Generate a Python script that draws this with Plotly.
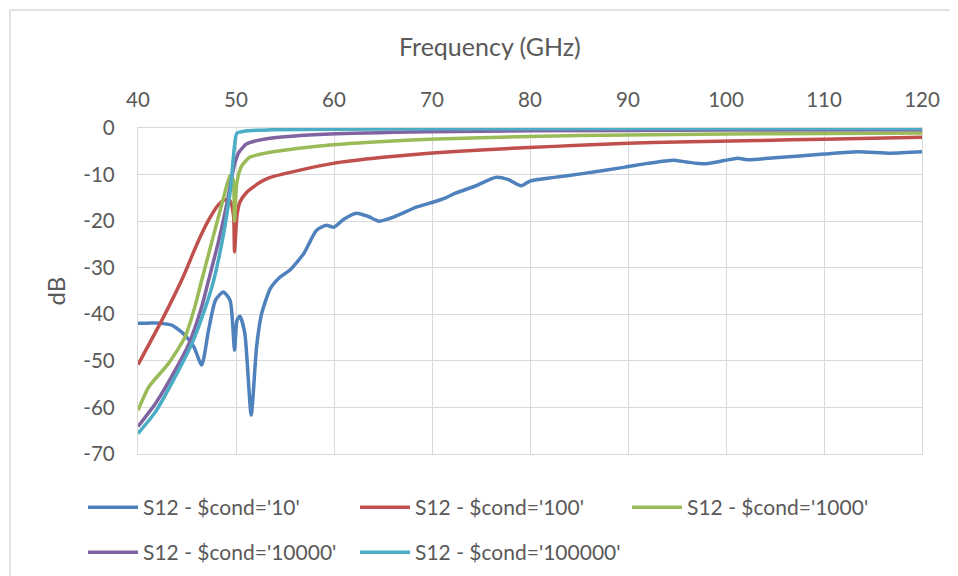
import plotly.graph_objects as go

# ---- data ----
f_10 = [40, 41, 42.1, 43.5, 44.8, 45.7, 46.5, 47.2, 47.9, 48.7, 49.4, 49.85, 50.1, 50.4, 50.9,
        51.55, 52.1, 52.6, 53.5, 54.5, 55.5, 56.9, 58.2, 59.2, 60.0, 61, 62.3, 63.5, 64.6, 66,
        68.4, 70, 71.4, 72.4, 74.5, 76.5, 77.8, 79.1, 80.0, 82.5, 85, 89.7, 92, 94.6, 96, 97.8,
        99.8, 101.2, 102.2, 105, 110, 113.4, 116.8, 120]
s_10 = [-41.9, -41.9, -41.9, -42.4, -44.5, -47, -50.9, -43.4, -37, -35.2, -37, -47.7, -41.3, -40.4, -44.1,
        -61.6, -47, -40, -34.5, -32, -30.5, -27, -22, -20.9, -21.3, -19.6, -18.3, -19, -20, -19.2,
        -17, -16, -15, -14, -12.4, -10.6, -11.1, -12.4, -11.4, -10.6, -9.9, -8.4, -7.6, -6.9, -7.3, -7.7,
        -7.0, -6.5, -6.8, -6.4, -5.6, -5.1, -5.4, -5.1]

f_100 = [40, 42.6, 44.6, 46.0, 47.2, 48.2, 48.9, 49.4, 49.75, 49.85, 50.1, 50.4, 51.1, 52.5,
         53.5, 56.2, 59.9, 65, 69.7, 75, 79.9, 85, 90, 95, 103.2, 110, 120]
s_100 = [-50.8, -40.6, -32.0, -25.0, -19.8, -16.5, -15.4, -15.6, -18.8, -26.6, -18.8, -15.9, -13.8, -11.6,
         -10.6, -9.2, -7.6, -6.3, -5.4, -4.7, -4.2, -3.7, -3.3, -3.0, -2.7, -2.4, -2.0]

f_1000 = [40, 41.1, 43.1, 44.8, 45.8, 46.5, 47.7, 48.7, 49.4, 49.7, 49.85, 50.1, 50.6, 51.4, 53.5,
          56.2, 59.9, 65, 69.7, 80, 90, 100, 110, 120]
s_1000 = [-60.6, -55.6, -50.6, -44.9, -38.4, -32.7, -23.1, -15.2, -10.2, -11, -20.0, -11.6, -8.1, -6.3, -5.2,
          -4.4, -3.6, -2.9, -2.4, -1.8, -1.5, -1.3, -1.2, -1.1]

f_10000 = [40, 41.8, 43.8, 45.2, 46.5, 47.2, 48.2, 49.1, 49.6, 49.9, 50.3, 51.1, 53.5, 59.6, 69.7, 80, 100, 120]
s_10000 = [-64.1, -59.1, -52, -46.3, -38.4, -32.7, -24.5, -15.9, -10.2, -7.4, -5.2, -3.4, -2.2, -1.3, -0.8, -0.6, -0.45, -0.35]

f_100000 = [40, 41.8, 43.8, 45.5, 46.9, 47.7, 48.7, 49.4, 49.85, 50.1, 51.1, 53.5, 60, 80, 120]
s_100000 = [-65.6, -60.9, -53.4, -46.3, -38.4, -32.9, -23.1, -13.8, -3.8, -1.1, -0.6, -0.4, -0.25, -0.15, -0.1]

names = ["S12 - $cond='10'", "S12 - $cond='100'", "S12 - $cond='1000'",
         "S12 - $cond='10000'", "S12 - $cond='100000'"]
colors = ["#4F81BD", "#C0504D", "#9BBB59", "#8064A2", "#4BACC6"]
legend_rows = ["legend", "legend", "legend", "legend2", "legend2"]
x_ticks = [40, 50, 60, 70, 80, 90, 100, 110, 120]
y_ticks = [0, -10, -20, -30, -40, -50, -60, -70]
x_title = "Frequency (GHz)"
y_title = "dB"

series = [(f_10, s_10), (f_100, s_100), (f_1000, s_1000), (f_10000, s_10000), (f_100000, s_100000)]

FONT = "Lato"
TXT = "#595959"
GRID = "#D9D9D9"

fig = go.Figure()
for (fx, sy), nm, c, lg in zip(series, names, colors, legend_rows):
    fig.add_trace(go.Scatter(x=fx, y=sy, mode="lines", name=nm, legend=lg,
                             line=dict(color=c, width=3.5, shape="spline", smoothing=0.6)))

# page has an 8px body margin; the figure is placed at (8, 8)
OFF = 8
W, H = 958 - OFF, 576 - OFF
L, R, T, B = 130, 36, 120, 122
pw, ph = W - L - R, H - T - B

def px(xp):
    return (xp - L) / pw

def py(yp):
    return (H - B - yp) / ph

leg_common = dict(orientation="h", xanchor="left", yanchor="top",
                  entrywidth=207, entrywidthmode="pixels", itemwidth=50,
                  font=dict(family=FONT, size=21, color=TXT), bgcolor="rgba(0,0,0,0)",
                  itemclick=False, itemdoubleclick=False)

fig.update_layout(
    width=W, height=H,
    margin=dict(l=L, r=R, t=T, b=B, pad=0, autoexpand=False),
    paper_bgcolor="white", plot_bgcolor="white",
    font=dict(family=FONT, size=20.5, color=TXT),
    xaxis=dict(side="top", range=[40, 120], tickvals=x_ticks, ticktext=[str(v) for v in x_ticks],
               tickfont=dict(size=20.5, color=TXT), automargin=False,
               showgrid=True, gridcolor=GRID, gridwidth=1.3, zeroline=False,
               showline=True, linecolor=GRID, linewidth=1.3, mirror=True,
               ticks="", ticklabelstandoff=12),
    yaxis=dict(range=[-70, 0], tickvals=y_ticks, ticktext=[str(v) for v in y_ticks],
               tickfont=dict(size=20.5, color=TXT), automargin=False,
               showgrid=True, gridcolor=GRID, gridwidth=1.3, zeroline=False,
               showline=True, linecolor=GRID, linewidth=1.3, mirror=True,
               ticks="", ticklabelstandoff=18,
               title=dict(text=y_title, standoff=10, font=dict(size=24, color=TXT))),
    legend=dict(x=px(75), y=py(479), **leg_common),
    legend2=dict(x=px(75), y=py(524), **leg_common),
    showlegend=True,
)

# x-axis title (placed left of centre, as in the reference)
fig.add_annotation(text=x_title, xref="paper", yref="paper", x=px(490 - OFF), y=py(46 - OFF),
                   xanchor="center", yanchor="middle", showarrow=False,
                   font=dict(family=FONT, size=25, color=TXT))

# outer chart-area border (partially visible, like the reference crop)
fig.add_shape(type="line", xref="paper", yref="paper", x0=px(10 - OFF), x1=px(W + 5), y0=py(10 - OFF), y1=py(10 - OFF),
              line=dict(color=GRID, width=1.5), layer="below")
fig.add_shape(type="line", xref="paper", yref="paper", x0=px(10 - OFF), x1=px(10 - OFF), y0=py(10 - OFF), y1=py(H + 5),
              line=dict(color=GRID, width=1.5), layer="below")

fig.write_html("out.html")
